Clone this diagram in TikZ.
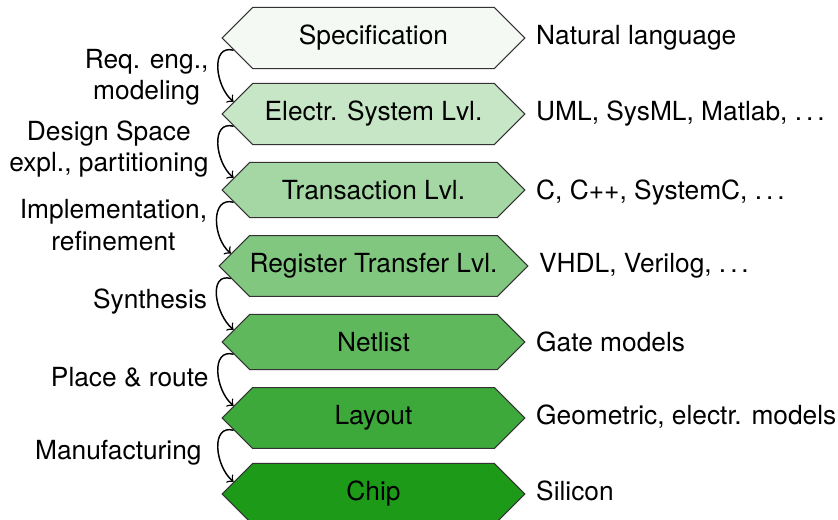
\documentclass[tikz,border=0pt]{standalone}
\usepackage{fontspec}
\setmainfont{TeX Gyre Heros}
\usetikzlibrary{shapes.symbols}
\definecolor{chipgreen}{RGB}{28,154,24}
\newcommand{\etcdots}{.\kern0.15em.\kern0.15em.}
\begin{document}
\begin{tikzpicture}[x=0.38pt,y=0.38pt,
  tier/.style={signal, signal to=west and east,
    signal pointer angle=90, draw=black!80, line width=0.4pt,
    minimum width=115.1pt, inner xsep=0pt, inner ysep=6.8pt,
    fill=chipgreen!#1},
  note/.style={anchor=base west, inner sep=0pt, xshift=3.8pt},
  flowlbl/.style={left, align=center, yshift=-2pt},
  flow/.style={->, line width=0.55pt, out=165, in=140, looseness=1.2}]
  \useasboundingbox (0,0) rectangle (838,-519);
  \clip (0,0) rectangle (838,-519);

  % abstraction levels, top to bottom
  \node[tier=5]   (spec) at (373.5,-38)  {Specification};
  \node[tier=25]  (esl)  at (373.5,-114) {Electr. System Lvl.};
  \node[tier=40]  (tl)   at (373.5,-190) {Transaction Lvl.};
  \node[tier=55]  (rtl)  at (373.5,-266) {Register Transfer Lvl.};
  \node[tier=70]  (net)  at (373.5,-342) {Netlist};
  \node[tier=85]  (lay)  at (373.5,-418) {Layout};
  \node[tier=100] (chip) at (373.5,-494) {Chip};

  % description languages / models
  \node[note] (nspec) at (spec.east |- spec.text) {Natural language};
  \node[note] (nesl)  at (esl.east |- esl.text)   {UML, SysML, Matlab, \etcdots};
  \node[note] (ntl)   at (tl.east |- tl.text)     {C, C++, SystemC, \etcdots};
  \node[note] (nrtl)  at (rtl.east |- rtl.text)   {VHDL, Verilog, \etcdots};
  \node[note] (nnet)  at (net.east |- net.text)   {Gate models};
  \node[note] (nlay)  at (lay.east |- lay.text)   {Geometric, electr. models};
  \node[note] (nchip) at (chip.east |- chip.text) {Silicon};

  % design steps between levels
  \draw[flow] (spec.185) to node[flowlbl, yshift=-1.5pt] {Req. eng.,\\modeling} (esl.175);
  \draw[flow] (esl.185)  to node[flowlbl] {Design Space\\expl., partitioning} (tl.175);
  \draw[flow] (tl.185)   to node[flowlbl] {Implementation,\\refinement} (rtl.175);
  \draw[flow] (rtl.185)  to node[flowlbl] {Synthesis} (net.175);
  \draw[flow] (net.185)  to node[flowlbl] {Place \& route} (lay.175);
  \draw[flow] (lay.185)  to node[flowlbl, xshift=-2.6pt] {Manufacturing} (chip.175);
\end{tikzpicture}
\end{document}
